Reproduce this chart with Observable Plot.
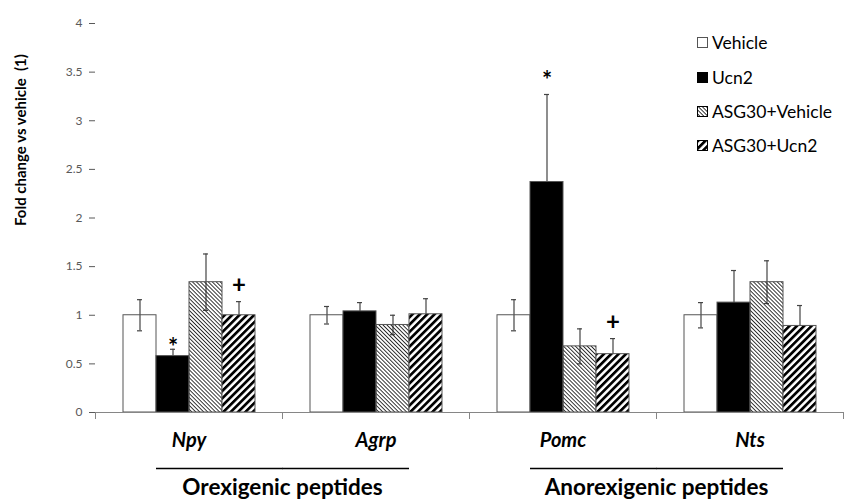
<!DOCTYPE html>
<html><head><meta charset="utf-8">
<script src="https://cdn.jsdelivr.net/npm/d3@7"></script>
<script src="https://cdn.jsdelivr.net/npm/@observablehq/plot@0.6"></script>
<style>
html,body{margin:0;padding:0;background:#fff;}
#wrap{position:relative;width:845px;height:499px;font-family:Lato,"Open Sans",sans-serif;}
#legend{position:absolute;left:697px;top:0;font-family:Lato,"Open Sans",sans-serif;font-size:17.5px;color:#000;}
#legend .row{position:absolute;left:0;display:flex;align-items:center;white-space:nowrap;height:20px;}
#legend svg{margin-right:4px;}
</style></head>
<body>
<svg width="0" height="0" style="position:absolute">
  <defs>
    <pattern id="pGray" patternUnits="userSpaceOnUse" width="2.8" height="2.8" patternTransform="rotate(-45)">
      <rect x="0" y="0" width="0.9" height="2.8" fill="#222"></rect>
    </pattern>
    <pattern id="pHatch" patternUnits="userSpaceOnUse" width="5.2" height="5.2" patternTransform="rotate(45)">
      <rect x="0" y="0" width="5.2" height="5.2" fill="#fff"></rect>
      <rect x="0" y="0" width="2.7" height="5.2" fill="#000"></rect>
    </pattern>
  </defs>
</svg>
<div id="wrap"><div id="legend"></div></div>
<script>
// ---- data ----
const genes = ["Npy", "Agrp", "Pomc", "Nts"];
const treatments = ["Vehicle", "Ucn2", "ASG30+Vehicle", "ASG30+Ucn2"];
const vehicle       = [1.00, 1.00, 1.00, 1.00];
const vehicleErr    = [0.16, 0.09, 0.16, 0.13];
const ucn2          = [0.58, 1.04, 2.37, 1.13];
const ucn2Err       = [0.07, 0.09, 0.90, 0.33];
const asgVehicle    = [1.34, 0.90, 0.68, 1.34];
const asgVehicleErr = [0.29, 0.10, 0.18, 0.22];
const asgUcn2       = [1.00, 1.01, 0.60, 0.89];
const asgUcn2Err    = [0.14, 0.16, 0.16, 0.21];
const yTicks = [0, 0.5, 1, 1.5, 2, 2.5, 3, 3.5, 4];
const yLabel = "Fold change vs vehicle  (1)";
const groupNames = ["Orexigenic peptides", "Anorexigenic peptides"];
const groupGenes = [["Npy", "Agrp"], ["Pomc", "Nts"]];
const annotGene = ["Npy", "Npy", "Pomc", "Pomc"];
const annotTreatment = ["Ucn2", "ASG30+Ucn2", "Ucn2", "ASG30+Ucn2"];
const annotSymbol = ["*", "+", "*", "+"];
const annotY = [0.72, 1.31, 3.47, 0.93];

// ---- tables ----
const series = [vehicle, ucn2, asgVehicle, asgUcn2];
const errs = [vehicleErr, ucn2Err, asgVehicleErr, asgUcn2Err];
const rows = genes.flatMap((g, i) => treatments.map((t, j) => ({gene: g, treatment: t, value: series[j][i], err: errs[j][i]})));
const annots = annotGene.map((g, i) => ({gene: g, treatment: annotTreatment[i], symbol: annotSymbol[i], y: annotY[i]}));
const fills = ["none", "#000", "url(#pGray)", "url(#pHatch)"];

// ---- layout ----
const W = 845, H = 499, mL = 94, mR = 1, mT = 23, mB = 87;
const padOuter = 0.76;
const facetW = (W - mL - mR) / genes.length;
const outerPx = padOuter * facetW / (treatments.length + 2 * padOuter) + 2;
const frameH = H - mT - mB;
const axisGray = "#868686";

const groupMarks = groupGenes.flatMap((gg, k) => [
  Plot.ruleY([{gene: gg[0]}], {fx: "gene", y: () => 0, x1: () => treatments[1], x2: () => treatments[3], insetRight: -outerPx, dy: 56, stroke: "#000", strokeWidth: 1.3}),
  Plot.ruleY([{gene: gg[1]}], {fx: "gene", y: () => 0, x1: () => treatments[0], x2: () => treatments[2], insetLeft: -outerPx, dy: 56, stroke: "#000", strokeWidth: 1.3}),
  Plot.text([{gene: gg[0], name: groupNames[k]}], {fx: "gene", text: "name", frameAnchor: "bottom-right", textAnchor: "middle", dy: 82, fontSize: 22.5, fontWeight: "bold", fill: "#000"})
]);

const plot = Plot.plot({
  width: W, height: H,
  marginLeft: mL, marginRight: mR, marginTop: mT, marginBottom: mB,
  style: {fontFamily: "Lato, 'Open Sans', sans-serif", background: "transparent", overflow: "visible"},
  fx: {domain: genes, padding: 0, label: null},
  x: {domain: treatments, paddingInner: 0, paddingOuter: padOuter, axis: null},
  y: {domain: [0, 4], label: null},
  color: {domain: treatments, range: fills},
  marks: [
    Plot.axisY({ticks: yTicks, tickFormat: d => String(d), tickSize: 6, tickPadding: 7, line: true, label: null, fontSize: 12, color: "#595959"}),
    Plot.axisFx({anchor: "bottom", tickSize: 0, tickPadding: 20, label: null, fontSize: 20, fontWeight: "bold", fontStyle: "italic", color: "#000"}),
    Plot.text([{gene: genes[0], t: yLabel}], {fx: "gene", text: "t", frameAnchor: "left", rotate: -90, dx: -74, dy: 8, fontSize: 15, fontWeight: "bold", fill: "#000"}),
    // error bars (drawn behind bars)
    Plot.ruleX(rows, {fx: "gene", x: "treatment", y1: d => d.value - d.err, y2: d => d.value + d.err, stroke: "#444", strokeWidth: 1.2}),
    Plot.tickY(rows, {fx: "gene", x: "treatment", y: d => d.value + d.err, insetLeft: 14, insetRight: 14, stroke: "#444", strokeWidth: 1.2}),
    Plot.tickY(rows, {fx: "gene", x: "treatment", y: d => d.value - d.err, insetLeft: 14, insetRight: 14, stroke: "#444", strokeWidth: 1.2}),
    // bars
    Plot.barY(rows, {fx: "gene", x: "treatment", y: "value", fill: "treatment", stroke: "#555", strokeWidth: 1}),
    // x axis line and category boundary ticks
    Plot.ruleY([0], {stroke: axisGray, strokeWidth: 1.2}),
    Plot.frame({anchor: "left", insetTop: frameH, insetBottom: -6, stroke: axisGray}),
    Plot.frame({anchor: "right", fx: () => genes[genes.length - 1], insetTop: frameH, insetBottom: -6, stroke: axisGray}),
    // significance marks
    Plot.text(annots.filter(d => d.symbol === "*"), {fx: "gene", x: "treatment", y: "y", text: "symbol", fontSize: 24, fontWeight: "bold", dy: 6, fill: "#000"}),
    Plot.text(annots.filter(d => d.symbol === "+"), {fx: "gene", x: "treatment", y: "y", text: "symbol", fontSize: 24, fontWeight: "bold", fill: "#000"}),
    ...groupMarks
  ]
});
document.getElementById("wrap").prepend(plot);

// ---- legend ----
const legendY = [42, 77, 111, 145];
const legend = document.getElementById("legend");
treatments.forEach((t, j) => {
  const row = document.createElement("div");
  row.className = "row";
  row.style.top = (legendY[j] - 10) + "px";
  row.innerHTML = `<svg width="11" height="11"><rect x="0.5" y="0.5" width="10" height="10" fill="${j === 0 ? "#fff" : fills[j]}" stroke="${j === 0 ? "#555" : "#000"}"/></svg><span>${t}</span>`;
  legend.appendChild(row);
});
</script>
</body></html>
